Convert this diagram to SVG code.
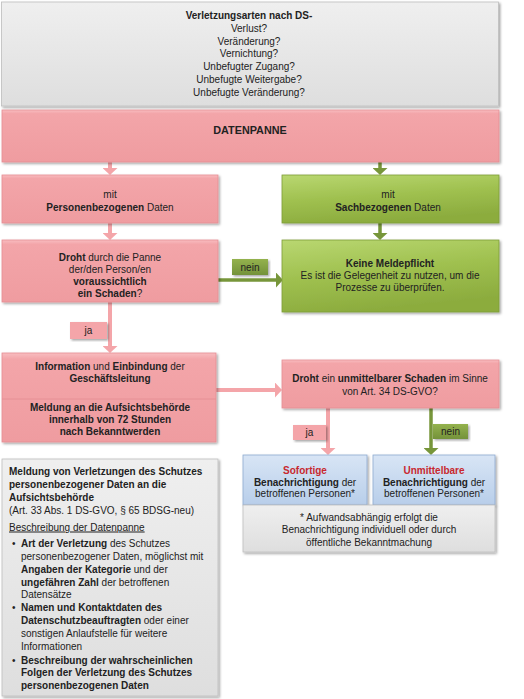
<svg xmlns="http://www.w3.org/2000/svg" width="524" height="699" viewBox="0 0 524 699">
<defs>
<linearGradient id="gPink" x1="0" y1="0" x2="0" y2="1"><stop offset="0" stop-color="#F8BDC0"/><stop offset="0.07" stop-color="#F3A5A9"/><stop offset="1" stop-color="#EF9CA0"/></linearGradient>
<linearGradient id="gGreen" x1="0" y1="0" x2="0.3" y2="1"><stop offset="0" stop-color="#B9D771"/><stop offset="0.5" stop-color="#A0C150"/><stop offset="1" stop-color="#8CAC3E"/></linearGradient>
<linearGradient id="gGray" x1="0" y1="0" x2="0" y2="1"><stop offset="0" stop-color="#EFEFEF"/><stop offset="1" stop-color="#DEDEDE"/></linearGradient>
<linearGradient id="gBlue" x1="0" y1="0" x2="0" y2="1"><stop offset="0" stop-color="#D8E5F5"/><stop offset="1" stop-color="#B8CEEA"/></linearGradient>
<linearGradient id="gLab" x1="0" y1="0" x2="0" y2="1"><stop offset="0" stop-color="#94B24E"/><stop offset="1" stop-color="#74923A"/></linearGradient>
<filter id="sh" x="-5%" y="-5%" width="112%" height="120%"><feDropShadow dx="1.5" dy="1.5" stdDeviation="1.2" flood-color="#000" flood-opacity="0.35"/></filter>
<marker id="ap" viewBox="0 0 7 15" markerUnits="userSpaceOnUse" markerWidth="7" markerHeight="15" refX="0" refY="7.5" orient="auto"><path d="M0,0 L7,7.5 L0,15 z" fill="#F4A5A9"/></marker>
<marker id="ag" viewBox="0 0 7 15" markerUnits="userSpaceOnUse" markerWidth="7" markerHeight="15" refX="0" refY="7.5" orient="auto"><path d="M0,0 L7,7.5 L0,15 z" fill="#77963A"/></marker>
</defs>
<style>
text{font-family:"Liberation Sans",Arial,sans-serif;font-size:10px;fill:#222}
.c{text-anchor:middle}
.b{font-weight:bold}
.pink{fill:url(#gPink);stroke:#E58E93;stroke-width:0.8;filter:url(#sh)}
.green{fill:url(#gGreen);stroke:#7E9D39;stroke-width:0.8;filter:url(#sh)}
.gray{fill:url(#gGray);stroke:#BEBEBE;stroke-width:0.8;filter:url(#sh)}
.blue{fill:url(#gBlue);stroke:#8EAAD0;stroke-width:0.8;filter:url(#sh)}
.lp{stroke:#F4A5A9;stroke-width:4;fill:none}
.lg{stroke:#77963A;stroke-width:3.5;fill:none}
.red{fill:#C8282E;font-weight:bold}
</style>
<rect width="524" height="699" fill="#fff"/>

<g id="connectors">
<path class="lp" d="M110,162 V168" marker-end="url(#ap)"/>
<path class="lg" d="M380,162 V168" marker-end="url(#ag)"/>
<path class="lp" d="M110,223 V233" marker-end="url(#ap)"/>
<path class="lg" d="M380,223 V233" marker-end="url(#ag)"/>
<path class="lg" d="M218,280 H276" marker-end="url(#ag)"/>
<path class="lp" d="M110,302 V346" marker-end="url(#ap)"/>
<path class="lp" d="M216,390 H275" marker-end="url(#ap)"/>
<path class="lp" d="M328,408 V448" marker-end="url(#ap)"/>
<path class="lg" d="M431,408 V448" marker-end="url(#ag)"/>
<rect x="232" y="259" width="36" height="16" fill="url(#gLab)" filter="url(#sh)"/>
<text class="c" x="250" y="270.5">nein</text>
<rect x="70" y="322" width="37" height="17" fill="#F4A5A9" filter="url(#sh)"/>
<text class="c" x="88.5" y="334">ja</text>
<rect x="293" y="425" width="33" height="15" fill="#F4A5A9" filter="url(#sh)"/>
<text class="c" x="309.5" y="436">ja</text>
<rect x="433" y="424" width="35" height="15" fill="url(#gLab)" filter="url(#sh)"/>
<text class="c" x="450.5" y="435">nein</text>
</g>

<g id="n-arten">
<rect class="gray" x="1.5" y="2" width="497" height="104"/>
<text class="c b" x="249" y="18.5">Verletzungsarten nach DS-</text>
<text class="c" x="249" y="31.5">Verlust?</text>
<text class="c" x="249" y="44.5">Veränderung?</text>
<text class="c" x="249" y="57">Vernichtung?</text>
<text class="c" x="249" y="69.5">Unbefugter Zugang?</text>
<text class="c" x="249" y="82.5">Unbefugte Weitergabe?</text>
<text class="c" x="249" y="95.5">Unbefugte Veränderung?</text>
</g>

<g id="n-datenpanne">
<rect class="pink" x="2" y="110" width="497" height="52"/>
<text class="c b" x="250" y="134" style="font-size:10.8px">DATENPANNE</text>
</g>

<g id="n-personen">
<rect class="pink" x="2" y="175" width="216" height="48"/>
<text class="c" x="110" y="197.5">mit</text>
<text class="c" x="110" y="210.5"><tspan class="b">Personenbezogenen</tspan> Daten</text>
</g>

<g id="n-sach">
<rect class="green" x="282" y="175" width="217" height="48"/>
<text class="c" x="388" y="197.5">mit</text>
<text class="c" x="388" y="210.5"><tspan class="b">Sachbezogenen</tspan> Daten</text>
</g>

<g id="n-droht1">
<rect class="pink" x="2" y="240" width="216" height="62"/>
<text class="c" x="110" y="260.5"><tspan class="b">Droht</tspan> durch die Panne</text>
<text class="c" x="110" y="272.5">der/den Person/en</text>
<text class="c b" x="110" y="284.5">voraussichtlich</text>
<text class="c" x="110" y="296.5"><tspan class="b">ein Schaden</tspan>?</text>
</g>

<g id="n-keine">
<rect class="green" x="282" y="240" width="217" height="72"/>
<text class="c b" x="390" y="266.5">Keine Meldepflicht</text>
<text class="c" x="390" y="278.5">Es ist die Gelegenheit zu nutzen, um die</text>
<text class="c" x="390" y="290.5">Prozesse zu überprüfen.</text>
</g>

<g id="n-info">
<rect class="pink" x="2" y="353" width="214" height="89"/>
<line x1="2" y1="399" x2="216" y2="399" stroke="#E58E93" stroke-width="0.8"/>
<text class="c" x="110" y="369.5"><tspan class="b">Information</tspan> und <tspan class="b">Einbindung</tspan> der</text>
<text class="c b" x="110" y="381.5">Geschäftsleitung</text>
<text class="c b" x="110" y="411">Meldung an die Aufsichtsbehörde</text>
<text class="c b" x="110" y="423">innerhalb von 72 Stunden</text>
<text class="c b" x="110" y="435">nach Bekanntwerden</text>
</g>

<g id="n-droht2">
<rect class="pink" x="282" y="360" width="217" height="48"/>
<text class="c" x="390" y="382"><tspan class="b">Droht</tspan> ein <tspan class="b">unmittelbarer Schaden</tspan> im Sinne</text>
<text class="c" x="390" y="395">von Art. 34 DS-GVO?</text>
</g>

<g id="n-sofort">
<rect class="blue" x="243" y="455" width="124" height="50"/>
<text class="c red" x="305" y="473.5">Sofortige</text>
<text class="c" x="305" y="485.5"><tspan class="b">Benachrichtigung</tspan> der</text>
<text class="c" x="305" y="497">betroffenen Personen*</text>
</g>

<g id="n-unmittelbar">
<rect class="blue" x="373" y="455" width="122" height="50"/>
<text class="c red" x="434" y="473.5">Unmittelbare</text>
<text class="c" x="434" y="485.5"><tspan class="b">Benachrichtigung</tspan> der</text>
<text class="c" x="434" y="497">betroffenen Personen*</text>
</g>

<g id="n-fussnote">
<rect class="gray" x="243" y="505" width="252" height="47"/>
<text class="c" x="369" y="520.5">* Aufwandsabhängig erfolgt die</text>
<text class="c" x="369" y="533">Benachrichtigung individuell oder durch</text>
<text class="c" x="369" y="545.5">öffentliche Bekanntmachung</text>
</g>

<g id="n-meldung">
<rect class="gray" x="2" y="459" width="216" height="237"/>
<text class="b" x="9" y="474.5">Meldung von Verletzungen des Schutzes</text>
<text class="b" x="9" y="487.5">personenbezogener Daten an die</text>
<text class="b" x="9" y="500.5">Aufsichtsbehörde</text>
<text x="9" y="513.5">(Art. 33 Abs. 1 DS-GVO, § 65 BDSG-neu)</text>
<text x="9" y="530.5" style="text-decoration:underline">Beschreibung der Datenpanne</text>
<text x="12" y="546.5">•</text>
<text x="21" y="546.5"><tspan class="b">Art der Verletzung</tspan> des Schutzes</text>
<text x="21" y="559.5">personenbezogener Daten, möglichst mit</text>
<text x="21" y="572.5"><tspan class="b">Angaben der Kategorie</tspan> und der</text>
<text x="21" y="585.5"><tspan class="b">ungefähren Zahl</tspan> der betroffenen</text>
<text x="21" y="598">Datensätze</text>
<text x="12" y="611">•</text>
<text class="b" x="21" y="611">Namen und Kontaktdaten des</text>
<text x="21" y="624"><tspan class="b">Datenschutzbeauftragten</tspan> oder einer</text>
<text x="21" y="637">sonstigen Anlaufstelle für weitere</text>
<text x="21" y="650">Informationen</text>
<text x="12" y="663.5">•</text>
<text class="b" x="21" y="663.5">Beschreibung der wahrscheinlichen</text>
<text class="b" x="21" y="676">Folgen der Verletzung des Schutzes</text>
<text class="b" x="21" y="689">personenbezogenen Daten</text>
</g>
</svg>
